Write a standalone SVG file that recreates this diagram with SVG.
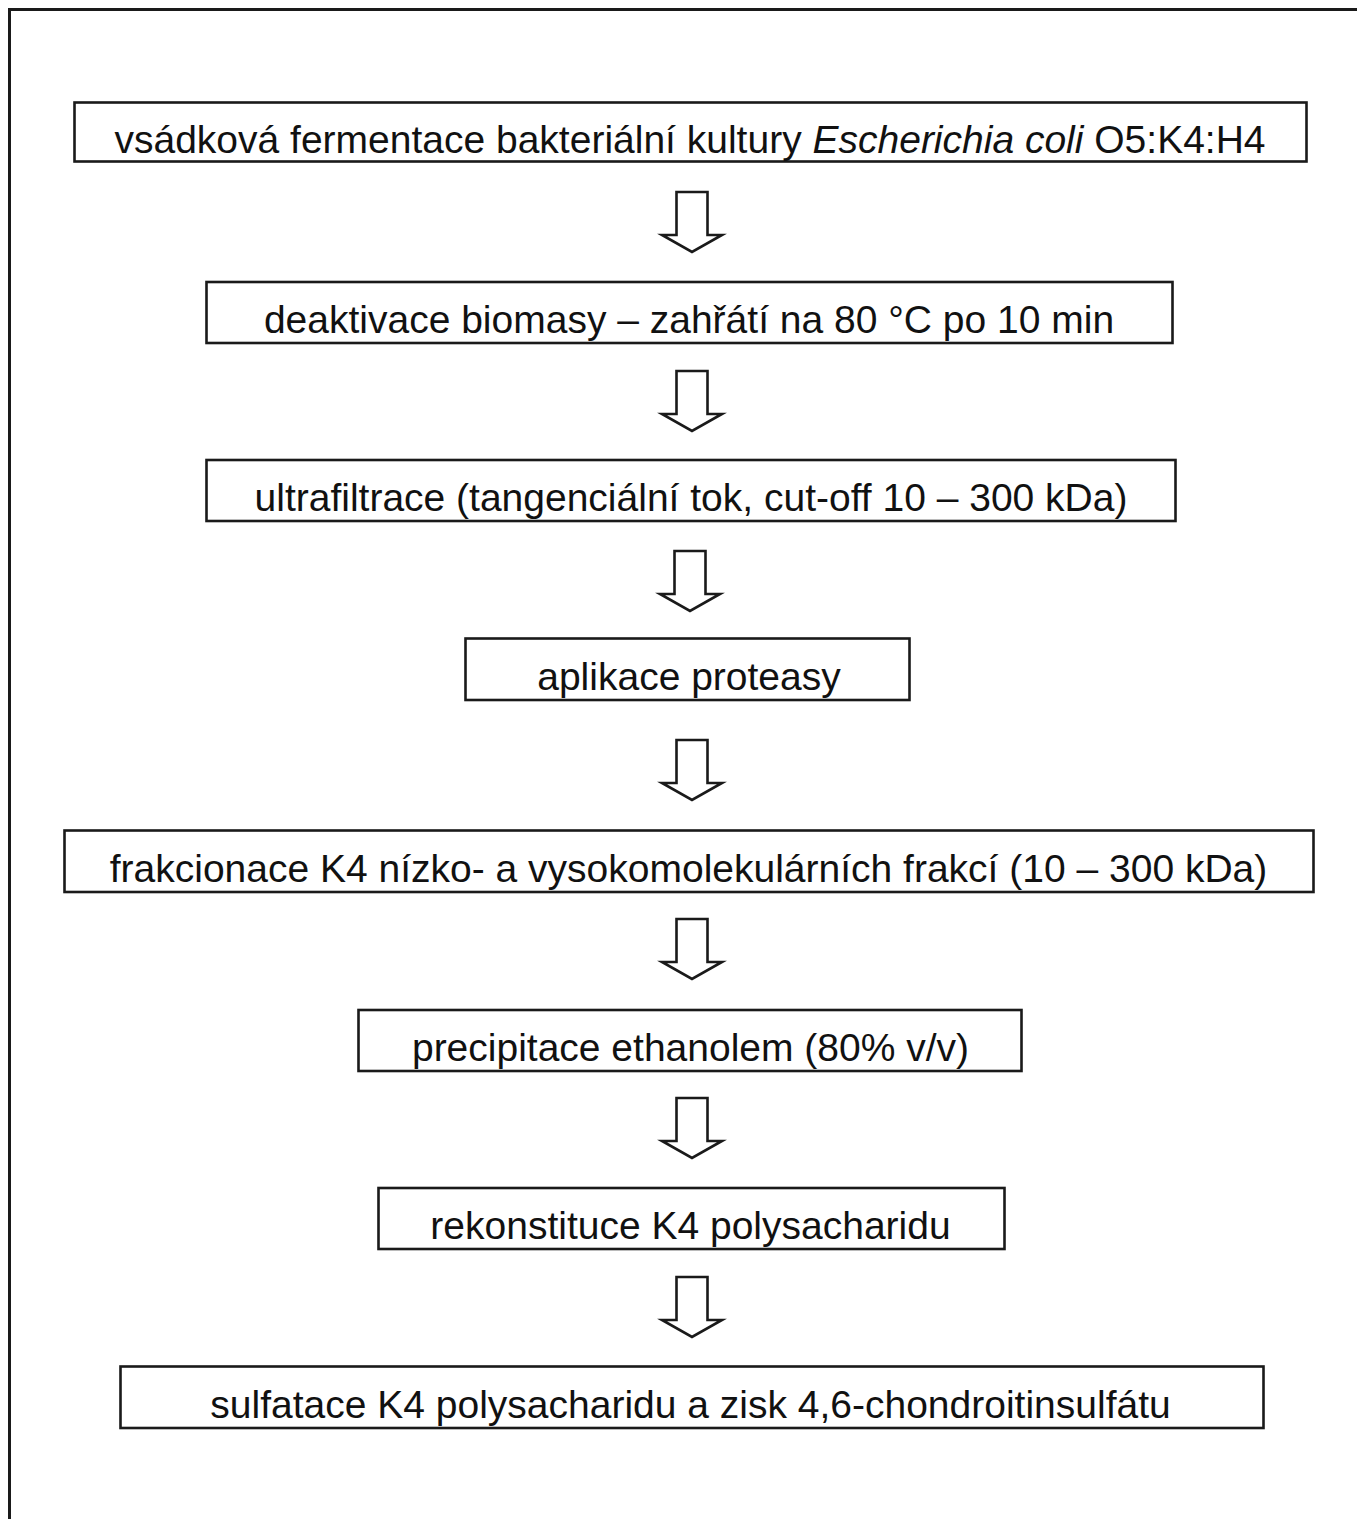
<svg xmlns="http://www.w3.org/2000/svg" width="1357" height="1519" viewBox="0 0 1357 1519">
<style>
.box{fill:#fff;stroke:#1a1a1a;stroke-width:2.6}
.lbl{font-family:"Liberation Sans",Arial,sans-serif;font-size:39px;fill:#111;text-anchor:middle}
.arr{fill:#fff;stroke:#1a1a1a;stroke-width:2.6;stroke-linejoin:miter}
.frame{fill:none;stroke:#1a1a1a;stroke-width:3}
</style>
<defs>
<path id="darrow" d="M-15.5,0 H15.5 V43 H30 L0,60 L-30,43 H-15.5 Z"/>
</defs>
<rect width="1357" height="1519" fill="#fff"/>
<path class="frame" d="M9.5,1519 V9.5 H1357"/>
<g id="connectors">
<use href="#darrow" class="arr" x="692" y="192"/>
<use href="#darrow" class="arr" x="692" y="371"/>
<use href="#darrow" class="arr" x="690" y="551"/>
<use href="#darrow" class="arr" x="692" y="740"/>
<use href="#darrow" class="arr" x="692" y="919"/>
<use href="#darrow" class="arr" x="692" y="1098"/>
<use href="#darrow" class="arr" x="692" y="1277"/>
</g>
<g id="n1"><rect class="box" x="74.5" y="102.5" width="1232" height="59"/><text class="lbl" x="690" y="153">vsádková fermentace bakteriální kultury <tspan font-style="italic">Escherichia coli</tspan> O5:K4:H4</text></g>
<g id="n2"><rect class="box" x="206.5" y="282" width="966" height="61"/><text class="lbl" x="689" y="333">deaktivace biomasy – zahřátí na 80 °C po 10 min</text></g>
<g id="n3"><rect class="box" x="206.5" y="460" width="969" height="61"/><text class="lbl" x="691" y="511">ultrafiltrace (tangenciální tok, cut-off 10 – 300 kDa)</text></g>
<g id="n4"><rect class="box" x="465.5" y="638.5" width="444" height="61.5"/><text class="lbl" x="689" y="690">aplikace proteasy</text></g>
<g id="n5"><rect class="box" x="64.5" y="830.5" width="1249" height="61.5"/><text class="lbl" x="688.5" y="882">frakcionace K4 nízko- a vysokomolekulárních frakcí (10 – 300 kDa)</text></g>
<g id="n6"><rect class="box" x="358.5" y="1010" width="663" height="61"/><text class="lbl" x="690.5" y="1061">precipitace ethanolem (80% v/v)</text></g>
<g id="n7"><rect class="box" x="378.5" y="1188" width="626" height="61"/><text class="lbl" x="690.5" y="1239">rekonstituce K4 polysacharidu</text></g>
<g id="n8"><rect class="box" x="120.5" y="1366.5" width="1143" height="61.5"/><text class="lbl" x="690.5" y="1418">sulfatace K4 polysacharidu a zisk 4,6-chondroitinsulfátu</text></g>
</svg>
